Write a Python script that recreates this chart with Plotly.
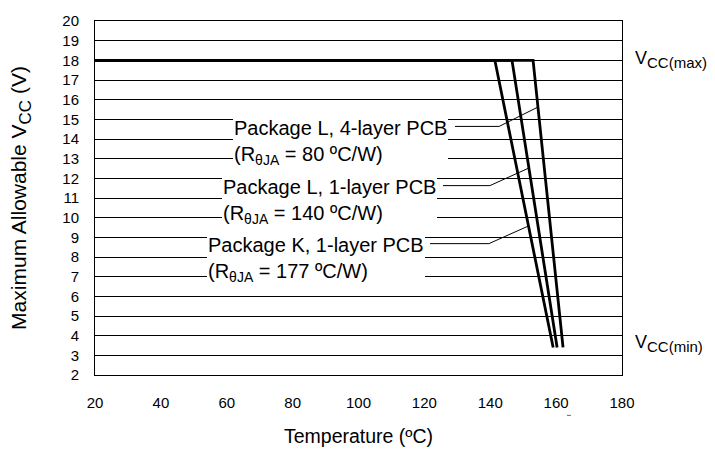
import plotly.graph_objects as go

# ---- data ----
vcc_max = 18.0
vcc_min = 3.4
t_start = 20
packages = ["Package K, 1-layer PCB", "Package L, 1-layer PCB", "Package L, 4-layer PCB"]
rtheta = ["177", "140", "80"]
t_knee = [141.4, 146.6, 153.0]      # temperature where derating starts (at VCC(max))
t_end = [159.1, 160.3, 162.1]       # temperature where curve reaches VCC(min)

# label boxes (left x, top y in data units) and leader lines
label_x = [54.0, 58.6, 61.9]
label_y = [9.22, 12.19, 15.15]
leader_x = [[121.7, 139.6, 151.5], [125.65, 139.9, 151.8], [129.3, 142.7, 154.2]]
leader_y = [[8.68, 8.68, 9.57], [11.63, 11.63, 12.53], [14.64, 14.64, 15.60]]

x_ticks = [20, 40, 60, 80, 100, 120, 140, 160, 180]
y_ticks = list(range(2, 21))

FONT = "Liberation Sans, Arial, sans-serif"

fig = go.Figure()

for i in range(3):
    fig.add_trace(go.Scatter(
        x=[t_start, t_knee[i], t_end[i]],
        y=[vcc_max, vcc_max, vcc_min],
        mode="lines", line=dict(color="black", width=2.8),
        showlegend=False, hoverinfo="skip"))
    fig.add_trace(go.Scatter(
        x=leader_x[i], y=leader_y[i],
        mode="lines", line=dict(color="black", width=1),
        showlegend=False, hoverinfo="skip"))
    fig.add_annotation(
        x=label_x[i], y=label_y[i], xref="x", yref="y",
        xanchor="left", yanchor="top", align="left",
        text=f"{packages[i]}<br>(R<sub>θJA</sub> = {rtheta[i]} ºC/W)",
        showarrow=False, bgcolor="white", borderpad=1, borderwidth=0,
        font=dict(family=FONT, size=20, color="black"))

SUB = "<sub><span style='font-size:15px'>{}</span></sub>"
fig.add_annotation(x=1, y=vcc_max, xref="paper", yref="y", xanchor="left",
                   yanchor="middle", xshift=11, yshift=1, showarrow=False,
                   text="V" + SUB.format("CC(max)"),
                   font=dict(family=FONT, size=18, color="black"))
fig.add_annotation(x=1, y=vcc_min, xref="paper", yref="y", xanchor="left",
                   yanchor="middle", xshift=11, yshift=4, showarrow=False,
                   text="V" + SUB.format("CC(min)"),
                   font=dict(family=FONT, size=18, color="black"))
# small stray mark below the 160 label
fig.add_shape(type="line", xref="x", yref="paper", x0=163.3, x1=164.5,
              y0=-0.114, y1=-0.114, line=dict(color="#666", width=1))

fig.update_xaxes(range=[20, 180], tickvals=x_ticks, ticktext=[str(v) for v in x_ticks],
                 showgrid=False, zeroline=False, showline=True, mirror=True,
                 linecolor="black", linewidth=1, ticks="", ticklabelstandoff=14,
                 tickfont=dict(family=FONT, size=15, color="black"),
                 title=dict(text="Temperature (ºC)", standoff=19,
                            font=dict(family=FONT, size=19.5, color="black")))
fig.update_yaxes(range=[2, 20], tickvals=y_ticks, ticktext=[str(v) for v in y_ticks],
                 showgrid=True, gridcolor="black", gridwidth=1, zeroline=False,
                 showline=True, mirror=True, linecolor="black", linewidth=1,
                 ticks="", ticklabelstandoff=12,
                 tickfont=dict(family=FONT, size=15, color="black"),
                 title=dict(text="Maximum Allowable V" + "<sub><span style='font-size:17px'>CC</span></sub>" + " (V)",
                            standoff=29,
                            font=dict(family=FONT, size=21, color="black")))

fig.update_layout(width=715, height=456, margin=dict(l=95, r=93, t=15, b=77),
                  plot_bgcolor="white", paper_bgcolor="white",
                  font=dict(family=FONT, color="black"))

fig.write_html("out.html")
